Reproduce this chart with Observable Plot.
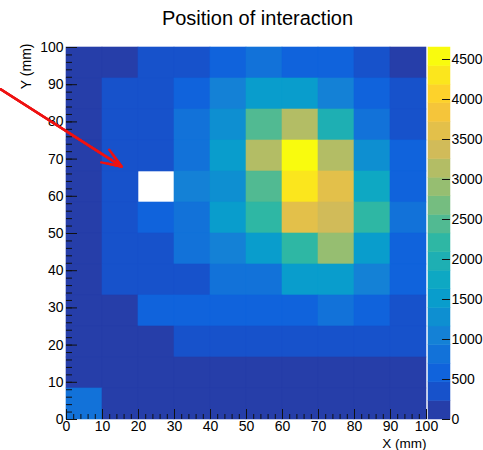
<!DOCTYPE html>
<html><head><meta charset="utf-8">
<script src="https://cdn.jsdelivr.net/npm/d3@7"></script>
<script src="https://cdn.jsdelivr.net/npm/@observablehq/plot@0.6"></script>
<style>
html,body{margin:0;padding:0;background:#fff;overflow:hidden}
#wrap{position:relative;width:483px;height:450px;font-family:"Liberation Sans",Arial,sans-serif}
#title{position:absolute;left:257.5px;top:8px;transform:translateX(-50%);font-size:20px;line-height:20px;white-space:nowrap;color:#000}
#main,#bar{position:absolute;top:0}
#main{left:0}
#bar{left:428px}
</style></head><body>
<div id="wrap"><div id="title">Position of interaction</div><div id="main"></div><div id="bar"></div></div>
<script>
// ---- data ----
const xBinEdges = [0, 10, 20, 30, 40, 50, 60, 70, 80, 90, 100];
const yBinEdges = [0, 8.333, 16.667, 25, 33.333, 41.667, 50, 58.333, 66.667, 75, 83.333, 91.667, 100];
// counts per y-row, from the top row (91.7–100 mm) down to the bottom row (0–8.3 mm); null = empty bin
const countsByRow = [
  [140, 150,  420,  390,  600,  850,  620,  620,  390,  170],
  [160, 400,  410,  600, 1050, 1500, 1600, 1100,  580,  420],
  [150, 400,  400,  820, 1350, 2550, 3150, 2000,  780,  430],
  [150, 400,  400,  800, 1550, 3150, 4620, 3200, 1300,  600],
  [150, 400, null, 1000, 1300, 2550, 4300, 3600, 1700,  600],
  [150, 400,  620,  850, 1500, 2200, 3600, 3400, 2200,  780],
  [150, 420,  420,  880, 1100, 1400, 2250, 2900, 1550,  620],
  [150, 420,  420,  440,  850,  880, 1400, 1400, 1100,  620],
  [150, 150,  600,  600,  650,  650,  650,  800,  650,  440],
  [140, 150,  150,  420,  420,  400,  400,  400,  400,  400],
  [140, 140,  140,  140,  140,  140,  140,  140,  140,  140],
  [900, 140,  140,  140,  140,  140,  140,  140,  140,  140]
];
const xTickValues = [0, 10, 20, 30, 40, 50, 60, 70, 80, 90, 100];
const yTickValues = [0, 10, 20, 30, 40, 50, 60, 70, 80, 90, 100];
const zTickValues = [0, 500, 1000, 1500, 2000, 2500, 3000, 3500, 4000, 4500];
const zMax = 4650;
const arrowStart = [-18.3, 88.8];
const arrowEnd = [15.3, 68.0];

// ---- palette (ROOT kBird) ----
const birdStops = ["#352a87","#0f5cdd","#1481d6","#06a4ca","#2eb7a4","#87bf77","#d1bb59","#fec832","#f9fb0e"];
const bird = d3.piecewise(d3.interpolateRgb, birdStops);
const nLevels = 20;
const thresholds = d3.range(1, nLevels).map(i => i * zMax / nLevels);
const levelColors = d3.range(nLevels).map(i => bird((i + 0.99) / nLevels));
const colorScale = {type: "threshold", domain: thresholds, range: levelColors};

// ---- build cells ----
const nRows = countsByRow.length;
const cells = [];
countsByRow.forEach((row, r) => row.forEach((v, c) => {
  if (v == null) return;
  cells.push({x1: xBinEdges[c], x2: xBinEdges[c + 1], y1: yBinEdges[nRows - 1 - r], y2: yBinEdges[nRows - r], count: v});
}));
const arrowData = [{x1: arrowStart[0], y1: arrowStart[1], x2: arrowEnd[0], y2: arrowEnd[1]}];

const W = 483, H = 450, mL = 66, mR = 57, mT = 47, mB = 31;
const frameW = W - mL - mR, frameH = H - mT - mB;
const xMinor = d3.range(0, 101, 2);
const yMinor = d3.range(0, 101, 2);
const style = {fontFamily: "'Liberation Sans', Arial, sans-serif", fontSize: "14px", background: "transparent", overflow: "visible", color: "#000"};
const arrowStyle = {x1: "x1", y1: "y1", x2: "x2", y2: "y2", stroke: "#ee1111", strokeWidth: 2.4, headAngle: 42};

const main = Plot.plot({
  width: W, height: H, marginLeft: mL, marginRight: mR, marginTop: mT, marginBottom: mB,
  style,
  x: {domain: [0, 100]},
  y: {domain: [0, 100]},
  color: colorScale,
  marks: [
    Plot.rect(cells, {x1: "x1", x2: "x2", y1: "y1", y2: "y2", fill: "count", stroke: "count", strokeWidth: 0.6}),
    Plot.tickX(xMinor, {x: d => d, insetTop: frameH - 5, stroke: "#111"}),
    Plot.tickX(xTickValues, {x: d => d, insetTop: frameH - 10, stroke: "#111"}),
    Plot.tickY(yMinor, {y: d => d, insetRight: frameW - 6, stroke: "#111"}),
    Plot.tickY(yTickValues, {y: d => d, insetRight: frameW - 11, stroke: "#111"}),
    Plot.axisX(xTickValues, {tickSize: 0, tickPadding: 2, fontSize: 14, label: null, tickFormat: d => String(d)}),
    Plot.axisY(yTickValues, {tickSize: 0, tickPadding: 3, fontSize: 14, label: null, tickFormat: d => String(d)}),
    Plot.text(["X (mm)"], {text: d => d, frameAnchor: "bottom-right", textAnchor: "end", lineAnchor: "bottom", dy: 28, fontSize: 13.5}),
    Plot.text(["Y (mm)"], {text: d => d, frameAnchor: "top-left", textAnchor: "end", rotate: -90, dx: -45, dy: -4, fontSize: 14}),
    Plot.arrow(arrowData, {...arrowStyle, headLength: 13}),
    Plot.arrow(arrowData, {...arrowStyle, headLength: 9}),
    Plot.arrow(arrowData, {...arrowStyle, headLength: 5})
  ]
});
document.getElementById("main").appendChild(main);

const bands = d3.range(nLevels).map(i => ({lo: i * zMax / nLevels, hi: (i + 1) * zMax / nLevels, mid: (i + 0.5) * zMax / nLevels}));
const bar = Plot.plot({
  width: 55, height: H, marginLeft: 0, marginRight: 33, marginTop: mT, marginBottom: mB,
  style,
  y: {domain: [0, zMax]},
  color: colorScale,
  marks: [
    Plot.rect(bands, {y1: "lo", y2: "hi", fill: "mid", stroke: "mid", strokeWidth: 0.5}),
    Plot.tickY(zTickValues, {y: d => d, insetLeft: 14, stroke: "#111"}),
    Plot.axisY(zTickValues, {anchor: "right", tickSize: 0, tickPadding: 1, fontSize: 14, label: null, tickFormat: d => String(d)})
  ]
});
document.getElementById("bar").appendChild(bar);
</script>
</body></html>
